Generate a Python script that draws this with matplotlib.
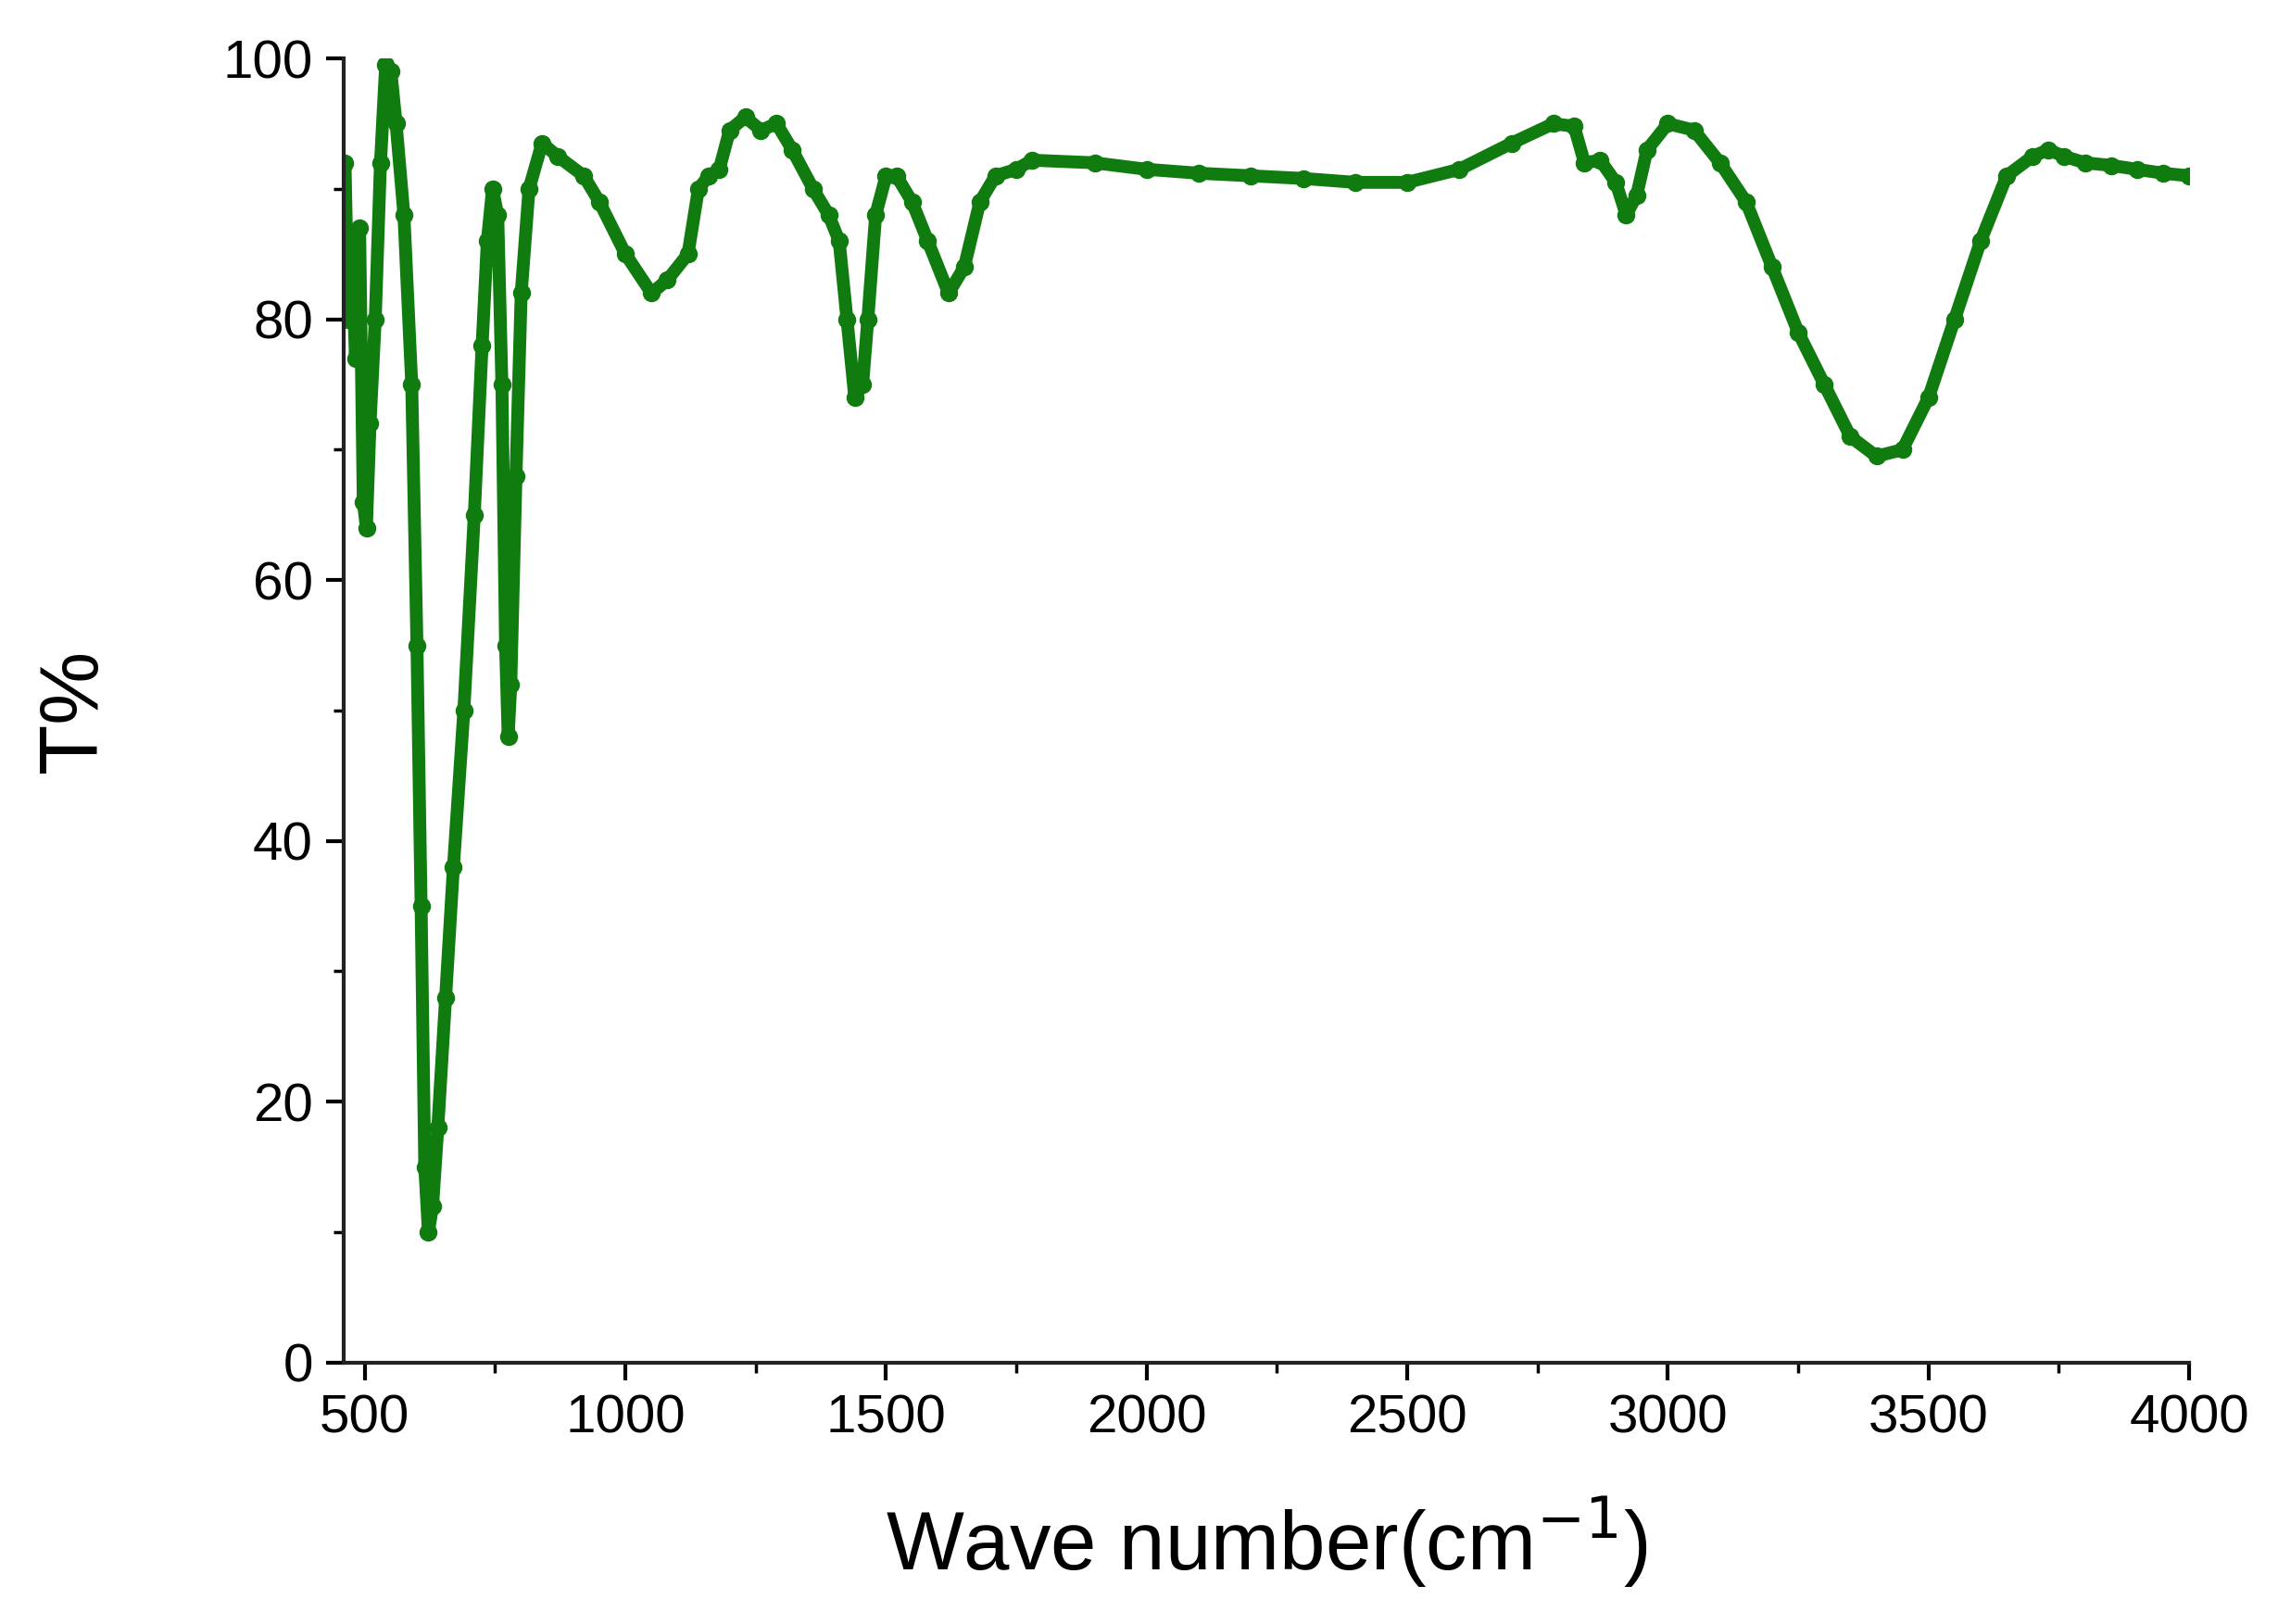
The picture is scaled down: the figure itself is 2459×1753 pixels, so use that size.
import matplotlib
matplotlib.use("Agg")
import matplotlib.pyplot as plt
from matplotlib.ticker import MultipleLocator

# wavenumber (cm-1) and transmittance (%)
wave = [462, 468, 475, 482, 490, 497, 503, 510, 520, 530, 540, 550, 560, 575, 590,
        600, 608, 615, 622, 630, 640, 655, 670, 690, 710, 725, 735, 745, 755, 763,
        770, 775, 780, 790, 800, 815, 840, 870, 920, 950, 1000, 1050, 1080, 1120,
        1140, 1160, 1180, 1200, 1230, 1260, 1290, 1320, 1360, 1390, 1410, 1425,
        1440, 1455, 1465, 1480, 1500, 1520, 1550, 1580, 1620, 1650, 1680, 1710,
        1750, 1780, 1900, 2000, 2100, 2200, 2300, 2400, 2500, 2600, 2700, 2780,
        2820, 2840, 2870, 2900, 2920, 2940, 2960, 3000, 3050, 3100, 3150, 3200,
        3250, 3300, 3350, 3400, 3450, 3500, 3550, 3600, 3650, 3700, 3730, 3760,
        3800, 3850, 3900, 3950, 4000]
trans = [92, 80, 86, 77, 87, 66, 64, 72, 80, 92, 99.5, 99, 95, 88, 75,
         55, 35, 15, 10, 12, 18, 28, 38, 50, 65, 78, 86, 90, 88, 75,
         55, 48, 52, 68, 82, 90, 93.5, 92.5, 91, 89, 85, 82, 83, 85,
         90, 91, 91.5, 94.5, 95.5, 94.5, 95, 93, 90, 88, 86, 80,
         74, 75, 80, 88, 91, 91, 89, 86, 82, 84, 89, 91,
         91.5, 92.2, 92, 91.5, 91.2, 91, 90.8, 90.5, 90.5, 91.5, 93.5, 95,
         94.8, 92, 92.2, 90.5, 88, 89.5, 93, 95, 94.5, 92, 89, 84,
         79, 75, 71, 69.5, 70, 74, 80, 86, 91, 92.5, 93, 92.5,
         92, 91.8, 91.5, 91.2, 91]

plt.rcParams['font.family'] = ['Liberation Sans', 'DejaVu Sans']

fig = plt.figure(figsize=(24.59, 17.53), dpi=100)
ax = fig.add_axes([0.151, 0.161, 0.810, 0.803])
ax.plot(wave, trans, color='#107c10', lw=10, marker='o', ms=13,
        solid_joinstyle='round', solid_capstyle='round')

ax.set_xlim(460, 4000)
ax.set_ylim(0, 100)
ax.xaxis.set_major_locator(MultipleLocator(500))
ax.xaxis.set_minor_locator(MultipleLocator(250))
ax.yaxis.set_major_locator(MultipleLocator(20))
ax.yaxis.set_minor_locator(MultipleLocator(10))
for s in ['top', 'right']:
    ax.spines[s].set_visible(False)
for s in ['left', 'bottom']:
    ax.spines[s].set_linewidth(3)
    ax.spines[s].set_color('#222222')
ax.tick_params(which='major', direction='out', length=14, width=3, labelsize=42, pad=10)
ax.tick_params(which='minor', direction='out', length=8, width=2.5)

ax.set_xlabel('Wave number(cm$^{-1}$)', fontsize=64, labelpad=40)
ax.set_ylabel('T%', fontsize=64, labelpad=85)

fig.savefig('out.png', dpi=100)
